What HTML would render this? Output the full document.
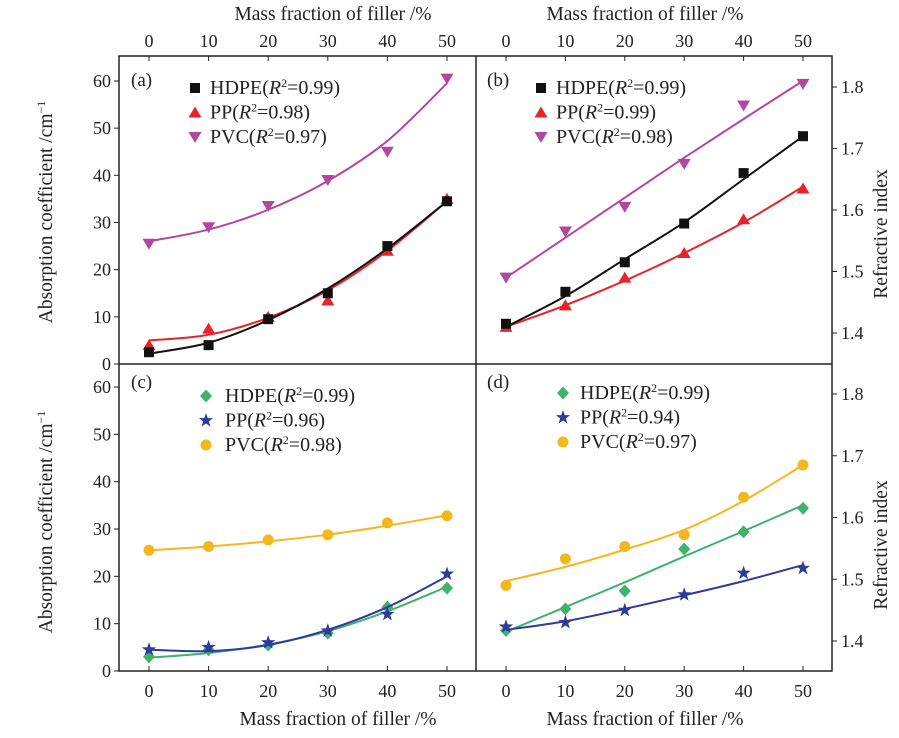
<!DOCTYPE html>
<html><head><meta charset="utf-8"><style>
body{margin:0;background:#fff}
svg{display:block;font-family:"Liberation Serif",serif}
</style></head><body>
<svg id="c" width="899" height="738" viewBox="0 0 899 738"></svg>
<script>
const xCats=[0,10,20,30,40,50];
const absTicks=[0,10,20,30,40,50,60];
const riTicks=[1.4,1.5,1.6,1.7,1.8];
// (a) absorption, method A
const aHDPE=[2.5,4,9.5,15,25,34.5];
const aPP=[4,7.5,10,13.5,24,35];
const aPVC=[25.5,29,33.5,39,45,60.5];
const aHDPEfit=[2.2,4.5,9.3,16,24.5,34.5];
const aPPfit=[5,6.2,9.8,15.6,24,34.5];
const aPVCfit=[26,28.5,32.7,38.8,47.3,59.5];
// (b) refractive index
const bHDPE=[1.415,1.467,1.515,1.578,1.66,1.72];
const bPP=[1.41,1.445,1.49,1.53,1.585,1.635];
const bPVC=[1.49,1.565,1.605,1.675,1.77,1.805];
const bHDPEfit=[1.41,1.46,1.52,1.58,1.65,1.72];
const bPPfit=[1.41,1.445,1.485,1.53,1.58,1.638];
const bPVCfit=[1.49,1.555,1.62,1.685,1.748,1.81];
// (c) absorption, method B
const cHDPE=[3,4.5,5.5,8,13.5,17.5];
const cPP=[4.5,5,6,8.5,12,20.5];
const cPVC=[25.5,26.3,27.7,28.8,31.3,32.8];
const cHDPEfit=[2.8,3.8,5.6,8.4,12.6,17.8];
const cPPfit=[4.5,4.2,5.5,8.7,13.5,20];
const cPVCfit=[25.5,26.3,27.4,28.8,30.7,32.9];
// (d) refractive index
const dHDPE=[1.417,1.452,1.481,1.549,1.577,1.615];
const dPP=[1.423,1.43,1.45,1.475,1.51,1.518];
const dPVC=[1.49,1.533,1.553,1.572,1.633,1.685];
const dHDPEfit=[1.415,1.455,1.495,1.537,1.578,1.62];
const dPPfit=[1.418,1.432,1.452,1.474,1.497,1.523];
const dPVCfit=[1.497,1.52,1.548,1.58,1.627,1.685];

const NS='http://www.w3.org/2000/svg';
const svg=document.getElementById('c');
function el(t,a,p){const e=document.createElementNS(NS,t);for(const k in a)e.setAttribute(k,a[k]);(p||svg).appendChild(e);return e;}
function txt(s,x,y,a,p){const e=el('text',Object.assign({x:x,y:y,'font-size':18,fill:'#222'},a||{}),p);e.innerHTML=s;return e;}

const XL=119,XM=476,XR=832,YT=56,YM=364,YB=671;
const xL=v=>149+v*5.96, xR=v=>506+v*5.94;
const yA=v=>364-v*4.717, yC=v=>671-v*4.733;
const yB=v=>333-(v-1.4)*615, yD=v=>641-(v-1.4)*617.5;

const fr=el('rect',{x:XL,y:YT,width:XR-XL,height:YB-YT,fill:'none',stroke:'#222','stroke-width':1.5});

el('line',{x1:XM,y1:YT,x2:XM,y2:YB,stroke:'#222','stroke-width':1.5});
el('line',{x1:XL,y1:YM,x2:XR,y2:YM,stroke:'#222','stroke-width':1.5});

xCats.forEach(v=>{
  [xL,xR].forEach(f=>{
    el('line',{x1:f(v),y1:YT,x2:f(v),y2:YT+5,stroke:'#222'});
    el('line',{x1:f(v),y1:YB,x2:f(v),y2:YB-5,stroke:'#222'});
    const t1=txt(v,f(v),47,{'text-anchor':'middle'});
    
    const t2=txt(v,f(v),697,{'text-anchor':'middle'});
    
  });
});
[[333,'top-left'],[645,'top-right']].forEach(([x,n])=>{const t=txt('Mass fraction of filler /%',x,20,{'text-anchor':'middle','font-size':19.5});});
[[338,'bottom-left'],[645,'bottom-right']].forEach(([x,n])=>{const t=txt('Mass fraction of filler /%',x,725,{'text-anchor':'middle','font-size':19.5});});

absTicks.forEach(v=>{
  el('line',{x1:XL-5,y1:yA(v),x2:XL,y2:yA(v),stroke:'#222'});
  const t=txt(v,XL-8,yA(v)+6,{'text-anchor':'end'});
  el('line',{x1:XL-5,y1:yC(v),x2:XL,y2:yC(v),stroke:'#222'});
  const t2=txt(v,XL-8,yC(v)+6,{'text-anchor':'end'});
});
riTicks.forEach(v=>{
  el('line',{x1:XR,y1:yB(v),x2:XR+5,y2:yB(v),stroke:'#222'});
  const t=txt(v.toFixed(1),XR+9,yB(v)+6);
  el('line',{x1:XR,y1:yD(v),x2:XR+5,y2:yD(v),stroke:'#222'});
  const t2=txt(v.toFixed(1),XR+9,yD(v)+6);
});
[[212,234,'top'],[522,545,'bottom']].forEach(([y,yr,n])=>{
  const t=txt('Absorption coefficient /cm<tspan font-size="12" dy="-7">−1</tspan>',0,0,{'text-anchor':'middle','font-size':19.5,transform:`translate(52,${y}) rotate(-90)`});
  
  const r=txt('Refractive index',0,0,{'text-anchor':'middle','font-size':19.5,transform:`translate(887,${yr}) rotate(-90)`});
  
});

const BLK='#111',RED='#e8232a',PUR='#b2479f',GRN='#3fb36b',BLU='#2e3b9b',YEL='#f4b81e';
function marker(type,x,y,c,p){
  let e;
  if(type==='sq')e=el('rect',{x:x-5,y:y-5,width:10,height:10,fill:c},p);
  else if(type==='tri')e=el('polygon',{points:`${x},${y-6} ${x-6.5},${y+5} ${x+6.5},${y+5}`,fill:c},p);
  else if(type==='itri')e=el('polygon',{points:`${x},${y+6} ${x-6.5},${y-5} ${x+6.5},${y-5}`,fill:c},p);
  else if(type==='dia')e=el('polygon',{points:`${x},${y-6.5} ${x+6},${y} ${x},${y+6.5} ${x-6},${y}`,fill:c},p);
  else if(type==='circ')e=el('circle',{cx:x,cy:y,r:5.5,fill:c},p);
  else{let s='';for(let i=0;i<10;i++){const r=i%2?3:7.5,a=-Math.PI/2+i*Math.PI/5;s+=`${x+r*Math.cos(a)},${y+r*Math.sin(a)} `;}e=el('polygon',{points:s,fill:c},p);}
  return e;
}
function curve(fit,fx,fy,c,p){
  const pts=xCats.map((v,i)=>[fx(v),fy(fit[i])]);
  let d=`M${pts[0][0]},${pts[0][1]}`;
  for(let i=0;i<pts.length-1;i++){
    const p0=pts[Math.max(0,i-1)],p1=pts[i],p2=pts[i+1],p3=pts[Math.min(pts.length-1,i+2)];
    d+=` C${p1[0]+(p2[0]-p0[0])/6},${p1[1]+(p2[1]-p0[1])/6} ${p2[0]-(p3[0]-p1[0])/6},${p2[1]-(p3[1]-p1[1])/6} ${p2[0]},${p2[1]}`;
  }
  return el('path',{d:d,fill:'none',stroke:c,'stroke-width':2},p);
}
function series(name,vals,fit,fx,fy,c,m){
  const g=el('g',{});
  
  const l=curve(fit,fx,fy,c,g);
  
  vals.forEach((v,i)=>{const mk=marker(m,fx(xCats[i]),fy(v),c,g);
    });
}
series('a-pvc',aPVC,aPVCfit,xL,yA,PUR,'itri');
series('a-pp',aPP,aPPfit,xL,yA,RED,'tri');
series('a-hdpe',aHDPE,aHDPEfit,xL,yA,BLK,'sq');
series('b-pvc',bPVC,bPVCfit,xR,yB,PUR,'itri');
series('b-pp',bPP,bPPfit,xR,yB,RED,'tri');
series('b-hdpe',bHDPE,bHDPEfit,xR,yB,BLK,'sq');
series('c-pvc',cPVC,cPVCfit,xL,yC,YEL,'circ');
series('c-hdpe',cHDPE,cHDPEfit,xL,yC,GRN,'dia');
series('c-pp',cPP,cPPfit,xL,yC,BLU,'star');
series('d-pvc',dPVC,dPVCfit,xR,yD,YEL,'circ');
series('d-hdpe',dHDPE,dHDPEfit,xR,yD,GRN,'dia');
series('d-pp',dPP,dPPfit,xR,yD,BLU,'star');

[['(a)',131,86],['(b)',487,86],['(c)',131,388],['(d)',487,388]].forEach(([s,x,y])=>{const t=txt(s,x,y,{'font-size':19});});

function legend(name,mx,tx,y0,items){
  const g=el('g',{});
  items.forEach(([lab,r2,c,m],i)=>{
    const y=y0+i*24.5;
    const mk=marker(m,mx,y,c,g);
    const t=txt(`${lab}(<tspan font-style="italic">R</tspan><tspan font-size="12" dy="-7">2</tspan><tspan dy="7">=${r2})</tspan>`,tx,y+6,{'font-size':20},g);
    
  });
}
legend('legend-a',195,210,88,[['HDPE','0.99',BLK,'sq'],['PP','0.98',RED,'tri'],['PVC','0.97',PUR,'itri']]);
legend('legend-b',541,556,88,[['HDPE','0.99',BLK,'sq'],['PP','0.99',RED,'tri'],['PVC','0.98',PUR,'itri']]);
legend('legend-c',206,225,396,[['HDPE','0.99',GRN,'dia'],['PP','0.96',BLU,'star'],['PVC','0.98',YEL,'circ']]);
legend('legend-d',563,580,393,[['HDPE','0.99',GRN,'dia'],['PP','0.94',BLU,'star'],['PVC','0.97',YEL,'circ']]);
</script>
</body></html>
